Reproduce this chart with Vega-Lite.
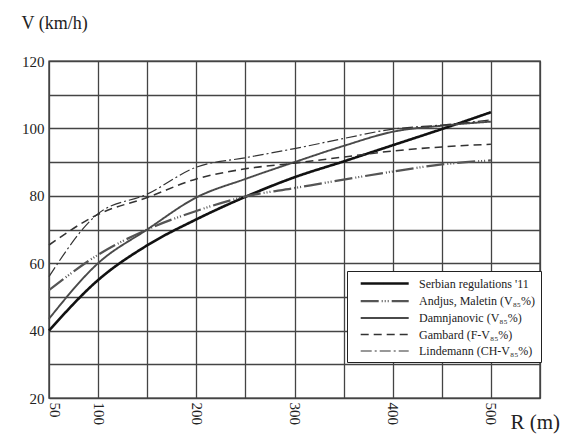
{
  "$schema": "https://vega.github.io/schema/vega-lite/v6.json",
  "width": 491,
  "height": 337,
  "autosize": {"type": "none"},
  "padding": {"left": 49, "top": 61, "right": 31, "bottom": 38},
  "background": "white",
  "config": {
    "view": {"stroke": "#222", "strokeWidth": 1.4},
    "font": "Liberation Serif, Times New Roman, serif"
  },
  "data": {
    "values": [
      {"series": "Serbian regulations '11", "R": 50, "V": 40},
      {"series": "Serbian regulations '11", "R": 100, "V": 55},
      {"series": "Serbian regulations '11", "R": 150, "V": 65.3},
      {"series": "Serbian regulations '11", "R": 200, "V": 73},
      {"series": "Serbian regulations '11", "R": 250, "V": 79.7},
      {"series": "Serbian regulations '11", "R": 300, "V": 85.5},
      {"series": "Serbian regulations '11", "R": 350, "V": 90.2},
      {"series": "Serbian regulations '11", "R": 400, "V": 95},
      {"series": "Serbian regulations '11", "R": 450, "V": 99.8},
      {"series": "Serbian regulations '11", "R": 500, "V": 104.8},
      {"series": "Andjus, Maletin (V₈₅%)", "R": 50, "V": 52},
      {"series": "Andjus, Maletin (V₈₅%)", "R": 100, "V": 62.5},
      {"series": "Andjus, Maletin (V₈₅%)", "R": 150, "V": 70},
      {"series": "Andjus, Maletin (V₈₅%)", "R": 200, "V": 75.5},
      {"series": "Andjus, Maletin (V₈₅%)", "R": 250, "V": 79.8},
      {"series": "Andjus, Maletin (V₈₅%)", "R": 300, "V": 82.3},
      {"series": "Andjus, Maletin (V₈₅%)", "R": 350, "V": 84.8},
      {"series": "Andjus, Maletin (V₈₅%)", "R": 400, "V": 87.2},
      {"series": "Andjus, Maletin (V₈₅%)", "R": 450, "V": 89.3},
      {"series": "Andjus, Maletin (V₈₅%)", "R": 500, "V": 90.5},
      {"series": "Damnjanovic (V₈₅%)", "R": 50, "V": 43.5},
      {"series": "Damnjanovic (V₈₅%)", "R": 100, "V": 60},
      {"series": "Damnjanovic (V₈₅%)", "R": 150, "V": 70},
      {"series": "Damnjanovic (V₈₅%)", "R": 200, "V": 79.5},
      {"series": "Damnjanovic (V₈₅%)", "R": 250, "V": 85},
      {"series": "Damnjanovic (V₈₅%)", "R": 300, "V": 90},
      {"series": "Damnjanovic (V₈₅%)", "R": 350, "V": 94.8},
      {"series": "Damnjanovic (V₈₅%)", "R": 400, "V": 99},
      {"series": "Damnjanovic (V₈₅%)", "R": 450, "V": 100.8},
      {"series": "Damnjanovic (V₈₅%)", "R": 500, "V": 102},
      {"series": "Gambard (F-V₈₅%)", "R": 50, "V": 65.4},
      {"series": "Gambard (F-V₈₅%)", "R": 100, "V": 74.5},
      {"series": "Gambard (F-V₈₅%)", "R": 150, "V": 79.5},
      {"series": "Gambard (F-V₈₅%)", "R": 200, "V": 85},
      {"series": "Gambard (F-V₈₅%)", "R": 250, "V": 88},
      {"series": "Gambard (F-V₈₅%)", "R": 300, "V": 89.7},
      {"series": "Gambard (F-V₈₅%)", "R": 350, "V": 91.5},
      {"series": "Gambard (F-V₈₅%)", "R": 400, "V": 93.3},
      {"series": "Gambard (F-V₈₅%)", "R": 450, "V": 94.5},
      {"series": "Gambard (F-V₈₅%)", "R": 500, "V": 95.3},
      {"series": "Lindemann (CH-V₈₅%)", "R": 50, "V": 56},
      {"series": "Lindemann (CH-V₈₅%)", "R": 100, "V": 74.7},
      {"series": "Lindemann (CH-V₈₅%)", "R": 150, "V": 80.5},
      {"series": "Lindemann (CH-V₈₅%)", "R": 200, "V": 88.5},
      {"series": "Lindemann (CH-V₈₅%)", "R": 250, "V": 91.3},
      {"series": "Lindemann (CH-V₈₅%)", "R": 300, "V": 94},
      {"series": "Lindemann (CH-V₈₅%)", "R": 350, "V": 97},
      {"series": "Lindemann (CH-V₈₅%)", "R": 400, "V": 99.8},
      {"series": "Lindemann (CH-V₈₅%)", "R": 450, "V": 101},
      {"series": "Lindemann (CH-V₈₅%)", "R": 500, "V": 102.5}
    ]
  },
  "mark": {"type": "line", "interpolate": "monotone"},
  "encoding": {
    "x": {
      "field": "R", "type": "quantitative",
      "scale": {"domain": [50, 550], "nice": false, "zero": false},
      "axis": {
        "values": [50, 100, 150, 200, 250, 300, 350, 400, 450, 500, 550],
        "labelExpr": "indexof([50,100,200,300,400,500], datum.value) >= 0 ? datum.label : ''",
        "labelAngle": 90, "labelAlign": "left", "labelBaseline": "middle",
        "labelFont": "Liberation Serif, Times New Roman, serif", "labelFontSize": 15, "labelColor": "#222",
        "labelPadding": 4, "labelFlush": false, "labelOverlap": false,
        "labelOffset": {"condition": {"test": "datum.value == 50", "value": 5}, "value": 0},
        "grid": true, "gridColor": "#444", "gridWidth": 1.3,
        "domain": false, "ticks": false,
        "title": "R (m)", "titleFont": "Liberation Serif, Times New Roman, serif", "titleFontSize": 21,
        "titleFontWeight": "normal", "titleColor": "#222",
        "titleAngle": 0, "titleAlign": "left", "titleBaseline": "alphabetic",
        "titleX": 461, "titleY": 30
      }
    },
    "y": {
      "field": "V", "type": "quantitative",
      "scale": {"domain": [20, 120], "nice": false, "zero": false},
      "axis": {
        "values": [20, 30, 40, 50, 60, 70, 80, 90, 100, 110, 120],
        "labelExpr": "datum.value % 20 == 0 ? datum.label : ''",
        "labelFont": "Liberation Serif, Times New Roman, serif", "labelFontSize": 15, "labelColor": "#222",
        "labelPadding": 5, "labelFlush": false, "labelOverlap": false,
        "grid": true, "gridColor": "#444", "gridWidth": 1.3,
        "domain": false, "ticks": false,
        "title": "V (km/h)", "titleFont": "Liberation Serif, Times New Roman, serif", "titleFontSize": 18,
        "titleFontWeight": "normal", "titleColor": "#222",
        "titleAngle": 0, "titleAlign": "left", "titleBaseline": "alphabetic",
        "titleX": -28, "titleY": -33
      }
    },
    "color": {
      "field": "series", "type": "nominal",
      "scale": {
        "domain": ["Serbian regulations '11", "Andjus, Maletin (V₈₅%)", "Damnjanovic (V₈₅%)", "Gambard (F-V₈₅%)", "Lindemann (CH-V₈₅%)"],
        "range": ["#111111", "#555555", "#4a4a4a", "#333333", "#333333"]
      },
      "legend": {
        "title": null, "orient": "none", "legendX": 298, "legendY": 210,
        "direction": "vertical",
        "strokeColor": "#222", "fillColor": "white", "padding": 5,
        "symbolType": "M0.2,0H8.2", "symbolSize": 144,
        "labelFont": "Liberation Serif, Times New Roman, serif", "labelFontSize": 12, "labelColor": "#222",
        "labelOffset": 52, "rowPadding": 3.5, "labelLimit": 250
      }
    },
    "strokeDash": {
      "field": "series", "type": "nominal",
      "scale": {
        "domain": ["Serbian regulations '11", "Andjus, Maletin (V₈₅%)", "Damnjanovic (V₈₅%)", "Gambard (F-V₈₅%)", "Lindemann (CH-V₈₅%)"],
        "range": [[1, 0], [18, 3, 1, 2, 1, 2, 1, 3], [1, 0], [8, 5], [11, 3, 2, 3]]
      }
    },
    "strokeWidth": {
      "field": "series", "type": "nominal",
      "scale": {
        "domain": ["Serbian regulations '11", "Andjus, Maletin (V₈₅%)", "Damnjanovic (V₈₅%)", "Gambard (F-V₈₅%)", "Lindemann (CH-V₈₅%)"],
        "range": [2.6, 1.2, 1.2, 1.6, 1.6]
      }
    }
  }
}
